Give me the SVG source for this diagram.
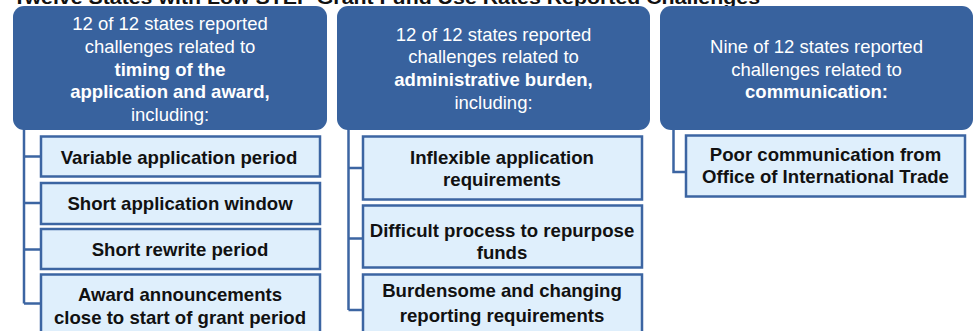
<svg xmlns="http://www.w3.org/2000/svg" width="974" height="331" viewBox="0 0 974 331">
<style>
.hdr{fill:#38629e}
.box{fill:#dfeffc;stroke:#3c65a2;stroke-width:2.5}
.ht{font-family:"Liberation Sans",Arial,sans-serif;font-size:18.5px;fill:#ffffff;text-anchor:middle}
.b{font-weight:bold}
.ct{font-family:"Liberation Sans",Arial,sans-serif;font-size:18.6px;font-weight:bold;fill:#111111;text-anchor:middle}
.title{font-family:"Liberation Sans",Arial,sans-serif;font-size:19px;font-weight:bold;fill:#111111}
.conn{fill:none;stroke:#3c65a2;stroke-width:2.5}
</style>
<rect width="974" height="331" fill="#ffffff"/>
<text class="title" x="13" y="4" textLength="747" lengthAdjust="spacingAndGlyphs">Twelve States with Low STEP Grant Fund Use Rates Reported Challenges</text>
<g id="connectors">
<path class="conn" d="M24,128 V303.5 M24,156.5 H41 M24,203 H41 M24,249.5 H41 M24,303.5 H41"/>
<path class="conn" d="M348.5,128 V310 M348.5,168 H363 M348.5,238.5 H363 M348.5,310 H363"/>
<path class="conn" d="M673.5,128 V172 H686"/>
</g>
<g id="header-timing">
<rect class="hdr" x="13" y="6" width="314" height="124" rx="11"/>
<text class="ht" x="170" y="30">12 of 12 states reported</text>
<text class="ht" x="170" y="53">challenges related to</text>
<text class="ht b" x="170" y="75.5">timing of the</text>
<text class="ht b" x="170" y="98">application and award,</text>
<text class="ht" x="170" y="120.5">including:</text>
</g>
<g id="header-admin">
<rect class="hdr" x="337" y="6" width="313" height="124" rx="11"/>
<text class="ht" x="493.5" y="40.5">12 of 12 states reported</text>
<text class="ht" x="493.5" y="63">challenges related to</text>
<text class="ht b" x="493.5" y="86">administrative burden,</text>
<text class="ht" x="493.5" y="108.5">including:</text>
</g>
<g id="header-comm">
<rect class="hdr" x="660" y="6" width="313" height="124" rx="11"/>
<text class="ht" x="816.5" y="53">Nine of 12 states reported</text>
<text class="ht" x="816.5" y="75.5">challenges related to</text>
<text class="ht b" x="816.5" y="97.5">communication:</text>
</g>
<g id="item-variable">
<rect class="box" x="41" y="136.5" width="279" height="40"/>
<text class="ct" x="179" y="163.5">Variable application period</text>
</g>
<g id="item-short-window">
<rect class="box" x="41" y="183" width="279" height="41"/>
<text class="ct" x="180" y="210">Short application window</text>
</g>
<g id="item-rewrite">
<rect class="box" x="41" y="229" width="279" height="40"/>
<text class="ct" x="180" y="255.5">Short rewrite period</text>
</g>
<g id="item-award">
<rect class="box" x="41" y="274.5" width="279" height="70"/>
<text class="ct" x="180" y="301">Award announcements</text>
<text class="ct" x="180" y="324">close to start of grant period</text>
</g>
<g id="item-inflexible">
<rect class="box" x="363" y="136.5" width="279" height="63"/>
<text class="ct" x="502" y="163.5">Inflexible application</text>
<text class="ct" x="502" y="186">requirements</text>
</g>
<g id="item-repurpose">
<rect class="box" x="363" y="205.5" width="279" height="62"/>
<text class="ct" x="502" y="236.5">Difficult process to repurpose</text>
<text class="ct" x="502" y="258.5">funds</text>
</g>
<g id="item-reporting">
<rect class="box" x="363" y="274.5" width="279" height="70"/>
<text class="ct" x="502" y="297">Burdensome and changing</text>
<text class="ct" x="502" y="322">reporting requirements</text>
</g>
<g id="item-poor-comm">
<rect class="box" x="686" y="135.5" width="279" height="61"/>
<text class="ct" x="825.5" y="160.5">Poor communication from</text>
<text class="ct" x="825.5" y="183">Office of International Trade</text>
</g>
</svg>
